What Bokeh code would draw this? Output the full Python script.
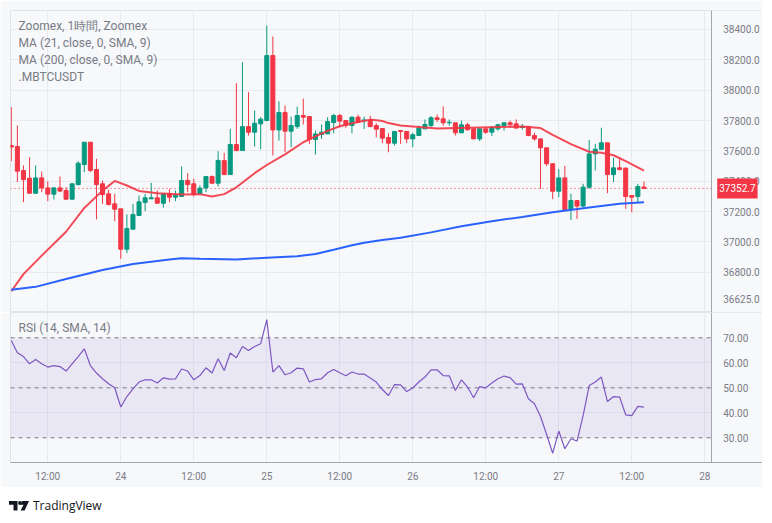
import pandas as pd
from bokeh.plotting import figure
from bokeh.models import (ColumnDataSource, Range1d, FixedTicker, Span, BoxAnnotation,
                          Label, Div, NumeralTickFormatter)
from bokeh.layouts import column
from bokeh.embed import file_html
from bokeh.resources import INLINE

# ---------------- data ----------------
legend_lines = ["Zoomex, 1時間, Zoomex", "MA (21, close, 0, SMA, 9)",
                "MA (200, close, 0, SMA, 9)", ".MBTCUSDT"]
rsi_title = "RSI (14, SMA, 14)"
first_candle = "2023-11-23 06:00"

opens = [37636, 37629, 37471, 37420, 37321, 37422, 37356, 37315, 37356, 37339,
         37282, 37378, 37510, 37657, 37477, 37383, 37317, 37251, 37218, 36952,
         37084, 37174, 37260, 37284, 37291, 37255, 37317, 37295, 37299, 37405,
         37383, 37317, 37356, 37431, 37387, 37536, 37444, 37642, 37602, 37760,
         37723, 37778, 37800, 38228, 37738, 37853, 37730, 37760, 37833, 37826,
         37675, 37708, 37712, 37787, 37833, 37800, 37767, 37822, 37798, 37800,
         37767, 37747, 37688, 37651, 37734, 37728, 37679, 37701, 37745, 37767,
         37818, 37811, 37785, 37785, 37719, 37772, 37745, 37679, 37745, 37723,
         37745, 37767, 37785, 37778, 37754, 37761, 37701, 37679, 37620, 37515,
         37334, 37422, 37214, 37273, 37236, 37361, 37580, 37611, 37653, 37444,
         37488, 37486, 37306, 37299, 37362]
highs = [37888, 37767, 37504, 37559, 37504, 37464, 37400, 37361, 37431, 37361,
         37383, 37532, 37657, 37657, 37548, 37405, 37343, 37317, 37218, 37181,
         37251, 37306, 37317, 37389, 37339, 37321, 37350, 37339, 37497, 37453,
         37416, 37372, 37431, 37438, 37598, 37587, 37745, 38046, 38184, 37987,
         37866, 37822, 38426, 38354, 37927, 37899, 37826, 37892, 37945, 37826,
         37734, 37774, 37822, 37844, 37844, 37800, 37826, 37839, 37826, 37831,
         37782, 37747, 37716, 37728, 37734, 37728, 37719, 37767, 37807, 37829,
         37840, 37893, 37807, 37785, 37800, 37785, 37745, 37745, 37745, 37763,
         37778, 37785, 37800, 37807, 37778, 37761, 37719, 37679, 37620, 37519,
         37480, 37501, 37317, 37273, 37383, 37673, 37646, 37752, 37653, 37554,
         37558, 37492, 37306, 37383, 37398]
lows = [37532, 37394, 37262, 37317, 37317, 37328, 37269, 37280, 37328, 37277,
        37280, 37372, 37460, 37460, 37148, 37251, 37240, 37137, 36889, 36926,
        37084, 37174, 37203, 37282, 37251, 37225, 37262, 37269, 37299, 37328,
        37299, 37317, 37328, 37387, 37365, 37440, 37444, 37598, 37602, 37701,
        37629, 37611, 37800, 37569, 37668, 37591, 37624, 37745, 37774, 37646,
        37576, 37679, 37712, 37716, 37756, 37752, 37716, 37782, 37745, 37756,
        37690, 37651, 37591, 37635, 37646, 37651, 37625, 37701, 37745, 37756,
        37789, 37767, 37767, 37701, 37719, 37734, 37679, 37664, 37712, 37697,
        37734, 37734, 37763, 37750, 37739, 37697, 37668, 37350, 37500, 37282,
        37295, 37214, 37145, 37152, 37229, 37350, 37471, 37605, 37321, 37394,
        37471, 37218, 37196, 37262, 37350]
closes = [37625, 37466, 37411, 37321, 37422, 37356, 37315, 37356, 37335, 37282,
          37383, 37519, 37657, 37471, 37378, 37312, 37247, 37216, 36952, 37088,
          37181, 37264, 37291, 37291, 37255, 37317, 37295, 37308, 37405, 37378,
          37312, 37354, 37431, 37387, 37537, 37444, 37642, 37602, 37760, 37723,
          37782, 37809, 38228, 37738, 37853, 37730, 37767, 37833, 37822, 37675,
          37712, 37723, 37793, 37833, 37796, 37767, 37822, 37789, 37804, 37760,
          37743, 37684, 37651, 37728, 37728, 37679, 37706, 37752, 37774, 37818,
          37807, 37785, 37789, 37719, 37772, 37739, 37679, 37745, 37723, 37754,
          37772, 37785, 37772, 37750, 37761, 37701, 37679, 37620, 37515, 37334,
          37422, 37214, 37273, 37236, 37361, 37580, 37611, 37653, 37444, 37488,
          37477, 37299, 37295, 37365, 37352.7]
last_price = 37352.7

ma21_idx = [0, 2, 5, 9, 12, 15, 17, 19, 21, 24, 28, 31, 33, 35, 37, 40, 42, 45, 48, 50,
            52, 54, 56, 59, 61, 62, 64, 70, 77, 84, 87, 89, 92, 95, 97, 99, 101, 104]
ma21_val = [36675, 36788, 36910, 37067, 37224, 37338, 37402, 37372, 37336, 37321,
            37313, 37315, 37300, 37315, 37360, 37453, 37507, 37577, 37657, 37695,
            37732, 37762, 37782, 37806, 37797, 37783, 37767, 37748, 37754, 37760,
            37750, 37706, 37645, 37594, 37587, 37571, 37533, 37470]
ma200_idx = [0, 4, 9, 15, 20, 26, 28, 31, 37, 42, 47, 50, 53, 56, 58, 61, 64, 69, 74,
             79, 84, 89, 95, 100, 104]
ma200_val = [36685, 36704, 36756, 36815, 36855, 36884, 36893, 36889, 36884, 36896,
             36905, 36920, 36948, 36978, 36995, 37013, 37027, 37063, 37103, 37137,
             37165, 37195, 37227, 37251, 37262]

rsi_values = [68.9, 64.0, 62.5, 59.6, 61.3, 59.6, 58.3, 58.9, 58.5, 56.7,
              59.6, 62.5, 65.6, 58.9, 55.9, 53.6, 51.6, 50.0, 42.3, 46.5,
              49.6, 52.3, 53.2, 53.2, 51.9, 54.0, 53.5, 53.6, 57.5, 56.7,
              53.2, 54.9, 58.0, 55.9, 61.6, 56.9, 63.9, 62.0, 66.5, 64.9,
              66.5, 67.6, 77.3, 56.3, 58.9, 55.2, 56.0, 57.9, 57.6, 52.3,
              53.3, 53.6, 56.0, 57.3, 56.0, 54.8, 56.3, 55.5, 55.5, 53.9,
              52.3, 49.3, 46.9, 51.3, 51.2, 48.5, 49.9, 52.3, 54.3, 57.2,
              57.2, 54.9, 54.8, 48.9, 53.2, 50.3, 46.0, 50.5, 50.0, 51.9,
              53.6, 54.7, 54.1, 51.5, 51.6, 45.6, 43.6, 38.5, 31.3, 23.8,
              32.7, 25.6, 29.6, 28.7, 38.9, 50.9, 52.3, 54.3, 44.5, 46.5,
              46.3, 39.2, 38.9, 42.6, 42.3]

price_ticks = [36625, 36800, 37000, 37200, 37400, 37600, 37800, 38000, 38200, 38400]
price_grid = [36800, 37000, 37200, 37400, 37600, 37800, 38000, 38200, 38400]
rsi_ticks = [30, 40, 50, 60, 70]
rsi_grid = [40, 60]
rsi_levels = [30, 50, 70]
xtick_times = ["2023-11-23 12:00", "2023-11-24 00:00", "2023-11-24 12:00",
               "2023-11-25 00:00", "2023-11-25 12:00", "2023-11-26 00:00",
               "2023-11-26 12:00", "2023-11-27 00:00", "2023-11-27 12:00",
               "2023-11-28 00:00"]
xtick_labels = ["12:00", "24", "12:00", "25", "12:00", "26", "12:00", "27", "12:00", "28"]

# ---------------- styling / layout ----------------
BG = "#f7f8fa"
GRID = "#e8eaef"
BORDER = "#e0e3eb"
AXIS = "#a3a6af"
TXT = "#787b86"
UP = "#089981"
DOWN = "#f23645"
FONT = "Roboto"
HOUR = 3600000.0

times = pd.date_range(first_candle, periods=len(closes), freq="h")
t0 = pd.Timestamp(first_candle).value / 1e6
xtick_ms = [pd.Timestamp(t).value // 10**6 for t in xtick_times]
# the frame also covers the price-scale column; the scale sits at scale_edge
xr = Range1d(t0 - 0.13 * HOUR, t0 + 123.49 * HOUR)
scale_edge = t0 + 115.06 * HOUR

colors = [UP if c >= o else DOWN for o, c in zip(opens, closes)]
src = ColumnDataSource(dict(
    t=times, o=opens, h=highs, l=lows, c=closes,
    top=[max(o, c) for o, c in zip(opens, closes)],
    bottom=[min(o, c) for o, c in zip(opens, closes)],
    color=colors))

common = dict(width=762, x_axis_type="datetime", x_range=xr, y_axis_location="right",
              toolbar_location=None, output_backend="svg", min_border_left=10,
              min_border_right=0, background_fill_color=BG, border_fill_color=BG,
              outline_line_color=BORDER)


def style_axis(a, standoff):
    a.major_label_text_font = FONT
    a.major_label_text_font_size = "10px"
    a.major_label_text_color = TXT
    a.axis_line_color = AXIS
    a.major_tick_line_color = None
    a.minor_tick_line_color = None
    a.major_label_standoff = standoff


def scale_cover():
    return BoxAnnotation(left=scale_edge, fill_color=BG, fill_alpha=1.0, line_color=None,
                         level="underlay")


# ---------------- main pane ----------------
p1 = figure(height=312, y_range=Range1d(36535, 38525), x_axis_location=None,
            min_border_top=10, min_border_bottom=0, **common)
p1.xgrid.ticker = FixedTicker(ticks=xtick_ms)
p1.ygrid.ticker = FixedTicker(ticks=price_grid)
for g in (p1.xgrid, p1.ygrid):
    g.grid_line_color = GRID
ax = p1.yaxis[0]
ax.ticker = FixedTicker(ticks=price_ticks)
ax.formatter = NumeralTickFormatter(format="0.0")
ax.fixed_location = scale_edge
style_axis(ax, 6)

p1.add_layout(Span(location=last_price, dimension="width", line_color=DOWN,
                   line_dash="1 3", line_width=1, level="underlay"))
p1.add_layout(scale_cover())

p1.segment(x0="t", y0="h", x1="t", y1="l", color="color", line_width=1, source=src)
p1.vbar(x="t", width=0.66 * HOUR, top="top", bottom="bottom", fill_color="color",
        line_color="color", line_width=1, source=src)

p1.line(x=[times[i] for i in ma21_idx], y=ma21_val, line_color=DOWN, line_width=2,
        line_alpha=0.9)
p1.line(x=[times[i] for i in ma200_idx], y=ma200_val, line_color="#2962ff", line_width=2)

p1.add_layout(Label(x=scale_edge, y=last_price, x_units="data", y_units="data",
                    x_offset=6, text=f"{last_price:.1f}", text_color="white",
                    text_font=FONT, text_font_size="10px", text_baseline="middle",
                    background_fill_color=DOWN, padding=(2, 6), level="overlay"))

for k, line in enumerate(legend_lines):
    p1.add_layout(Label(x=8, y=287 - 17 * k, x_units="screen", y_units="screen",
                        text=line, text_color=TXT, text_font=FONT,
                        text_font_size="12px", text_baseline="middle"))

# ---------------- RSI pane ----------------
p2 = figure(height=175, y_range=Range1d(20.12, 80.12), min_border_top=0,
            min_border_bottom=25, **common)
p2.xgrid.ticker = FixedTicker(ticks=xtick_ms)
p2.ygrid.ticker = FixedTicker(ticks=rsi_grid)
for g in (p2.xgrid, p2.ygrid):
    g.grid_line_color = GRID
ay = p2.yaxis[0]
ay.ticker = FixedTicker(ticks=rsi_ticks)
ay.formatter = NumeralTickFormatter(format="0.00")
ay.fixed_location = scale_edge
style_axis(ay, 6)
axx = p2.xaxis[0]
axx.ticker = FixedTicker(ticks=xtick_ms)
axx.major_label_overrides = dict(zip(xtick_ms, xtick_labels))
style_axis(axx, 2)

p2.add_layout(BoxAnnotation(bottom=rsi_levels[0], top=rsi_levels[-1], fill_color="#7e57c2",
                            fill_alpha=0.1, line_color=None, level="underlay"))
for lv in rsi_levels:
    p2.add_layout(Span(location=lv, dimension="width", line_color=TXT,
                       line_dash="4 4", line_width=1, level="underlay"))
p2.add_layout(scale_cover())
p2.line(x=times, y=rsi_values, line_color="#7e57c2", line_width=1.2)
p2.add_layout(Label(x=8, y=135, x_units="screen", y_units="screen", text=rsi_title,
                    text_color=TXT, text_font=FONT, text_font_size="12px",
                    text_baseline="middle"))

# ---------------- footer ----------------
logo_svg = ('<svg width="20" height="10" viewBox="0 0 20 10" style="display:block">'
            '<polygon points="0,0 8.5,0 8.5,9.5 4.5,9.5 4.5,3.8 0,3.8" fill="#131722"/>'
            '<circle cx="11" cy="2" r="1.9" fill="#131722"/>'
            '<polygon points="13.2,0 20,0 15.6,9.5 11.6,9.5 14.6,3.8 11.6,3.8" fill="#131722"/>'
            '</svg>')
footer = Div(text=('<div style="display:flex;align-items:center;gap:4px;'
                   'margin:5px 0 0 4px;font-family:\'Open Sans\';font-size:12px;'
                   'color:#131722">' + logo_svg + '<span>TradingView</span></div>'),
             width=762, height=36)

layout = column(p1, p2, footer, spacing=0)
open("out.html", "w").write(file_html(layout, INLINE))
